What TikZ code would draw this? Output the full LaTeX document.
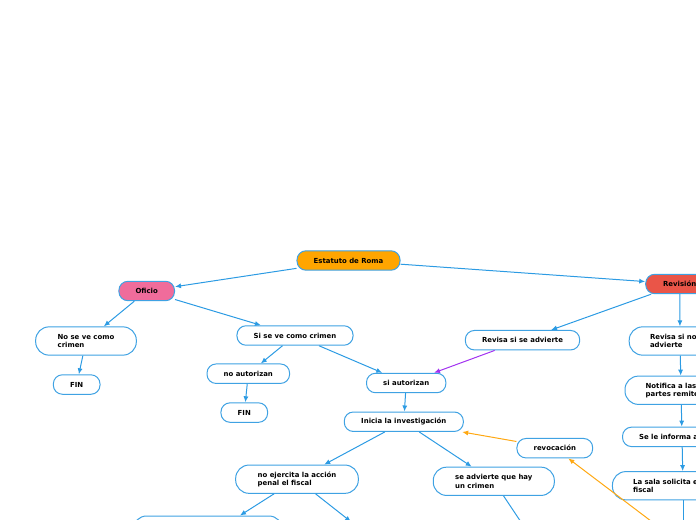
\documentclass[tikz,border=0pt]{standalone}
\usepackage{fontspec}
\setmainfont{DejaVu Sans}
\usetikzlibrary{positioning,arrows.meta}
\definecolor{lineblue}{HTML}{2C9BE3}
\definecolor{boxblue}{HTML}{3FA2E3}
\definecolor{rootfill}{HTML}{FFA500}
\definecolor{ofifill}{HTML}{F06C9B}
\definecolor{revfill}{HTML}{EA5548}
\definecolor{purpleline}{HTML}{A233F0}
\definecolor{orangeline}{HTML}{FFA812}

\begin{document}
\begin{tikzpicture}[x=0.75pt,y=-0.75pt,
  box/.style={draw=boxblue,line width=0.75pt,fill=white,rounded corners=6.8pt,
    minimum height=14.6pt,inner ysep=0pt,inner xsep=12.5pt,align=left,
    font=\fontsize{5.2}{6.2}\selectfont\bfseries},
  tall/.style={box,rounded corners=10pt,minimum height=21.2pt,inner xsep=15.6pt},
  link/.style={draw=lineblue,line width=0.75pt,-{Latex[length=4.5pt,width=3.8pt]}},
]
\useasboundingbox (0,0) rectangle (696,520);
\clip (0,0) rectangle (696,520);

% main branches
\node[box,fill=rootfill,minimum width=75.8pt] (root) at (348.5,260.5) {Estatuto de Roma};
\node[box,fill=ofifill,minimum width=41.3pt] (ofi) at (146.7,291) {Oficio};
\node[box,fill=revfill,minimum width=51pt] (rev) at (679.7,284) {Revisión};

% oficio side
\node[tall,minimum width=75.5pt] (nsc) at (86,341) {No se ve como\\crimen};
\node[box,minimum width=35pt,below=14pt of nsc,xshift=-7pt] (fin1) {FIN};
\node[box,minimum width=86.3pt] (ssc) at (295,335.5) {Si se ve como crimen};
\node[box,minimum width=61pt] (nau) at (248.3,373.7) {no autorizan};
\node[box,minimum width=35pt,below=13.8pt of nau,xshift=-3pt] (fin2) {FIN};
\node[box,minimum width=59.3pt] (sau) at (406.2,383) {si autorizan};
\node[box,minimum width=89.3pt,below=13.7pt of sau,xshift=-1.8pt] (ini) {Inicia la investigación};
\node[tall,minimum width=92pt] (nej) at (297,479.2) {no ejercita la acción\\penal el fiscal};
\node[tall,minimum width=90.8pt] (sac) at (493.8,481.3) {se advierte que hay\\un crimen};
\node[box,minimum width=56.3pt] (rvc) at (554.8,448.2) {revocación};
\node[tall,minimum width=111.8pt,minimum height=30pt] (bl) at (207.8,536) {};
\node[box,minimum width=80pt] (bm) at (364,532) {};
\node[box,minimum width=80pt] (sx) at (533,540) {};

% revision side
\node[box,minimum width=85.3pt] (rsa) at (522.5,340.2) {Revisa si se advierte};
\node[tall,text width=45pt] (rsn) at (680,341) {Revisa si no\\advierte};
\node[tall,text width=53pt,inner xsep=15.5pt,below=15pt of rsn,xshift=0.75pt] (ntf) {Notifica a las\\partes remite};
\node[box,text width=64.2pt,below=16.3pt of ntf,xshift=0.75pt] (sli) {Se le informa a};
\node[tall,text width=74.8pt,inner xsep=15.5pt,below=18pt of sli,xshift=0.75pt] (lss) {La sala solicita e\\fiscal};
\node[box,minimum width=80pt,below=26pt of lss] (nx) {};

\draw[link] (root) -- (ofi);
\draw[link] (root) -- (rev);
\draw[link] (ofi) -- (nsc);
\draw[link] (ofi) -- (ssc);
\draw[link] (nsc) -- (fin1);
\draw[link] (ssc) -- (nau);
\draw[link] (ssc) -- (sau);
\draw[link] (nau) -- (fin2);
\draw[link] (sau) -- (ini);
\draw[link] (ini) -- (nej);
\draw[link] (ini) -- (sac);
\draw[link] (nej) -- (bl);
\draw[link] (nej) -- (bm);
\draw[link] (sac) -- (sx);
\draw[link] (rev) -- (rsa);
\draw[link] (rev) -- (rsn);
\draw[link] (rsn) -- (ntf);
\draw[link] (ntf) -- (sli);
\draw[link] (sli) -- (lss);
\draw[link] (lss) -- (nx);
\draw[link,draw=purpleline] (rsa) -- (sau);
\draw[link,draw=orangeline] (rvc) -- (ini);
\draw[link,draw=orangeline] (nx) -- (rvc);
\end{tikzpicture}
\end{document}
